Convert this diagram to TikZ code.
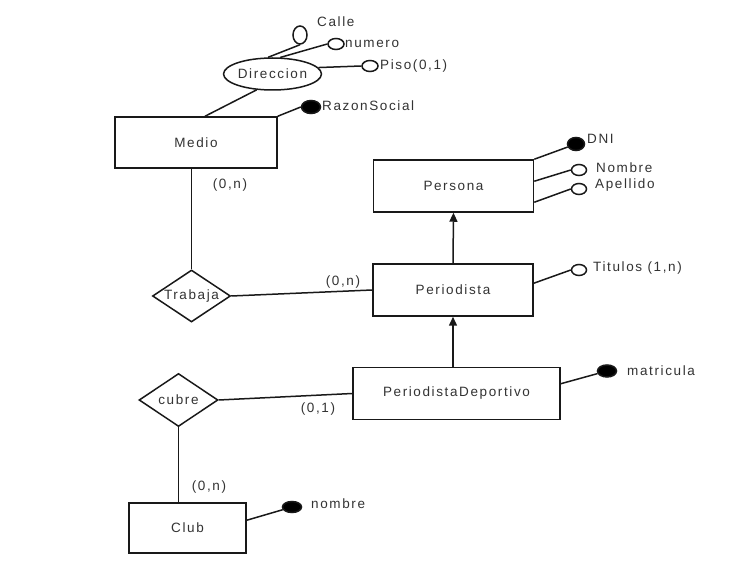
\documentclass[tikz,border=0pt]{standalone}
\usepackage{fontspec}
\setmainfont[LetterSpace=12]{Liberation Sans}
\usetikzlibrary{shapes.geometric,arrows.meta}
\begin{document}
\begin{tikzpicture}[x=1pt,y=-1pt,
  every node/.style={font=\fontsize{13.5}{15}\selectfont, text=black!80},
  entity/.style={draw=black!90, line width=1.5pt, rectangle, inner sep=0pt},
  rel/.style={draw=black!90, line width=1.5pt, diamond, inner sep=0pt},
  attr/.style={draw=black!90, line width=1.5pt, ellipse, inner sep=0pt, fill=white},
  keyattr/.style={draw=black!90, line width=1.5pt, ellipse, inner sep=0pt, fill=black},
  lbl/.style={anchor=west, inner sep=0pt},
  card/.style={inner sep=0pt},
  conn/.style={draw=black!90, line width=1.5pt},
  isa/.style={draw=black!90, line width=1.5pt, -{Triangle[length=9pt,width=8pt]}}
]
\useasboundingbox[fill=white] (0,0) rectangle (732,577);

% entities
\node[entity, minimum width=162pt, minimum height=51pt] (medio) at (196,142.5) {Medio};
\node[entity, minimum width=160pt, minimum height=52pt] (persona) at (453.5,186) {Persona};
\node[entity, minimum width=160pt, minimum height=52pt] (periodista) at (453,290) {Periodista};
\node[entity, minimum width=207pt, minimum height=52pt] (pd) at (456.5,393.5) {PeriodistaDeportivo};
\node[entity, minimum width=117pt, minimum height=50pt] (club) at (187.5,528) {Club};

% relationships
\node[rel, minimum width=78pt, minimum height=52pt, label={center:Trabaja}] (trabaja) at (191.5,296) {};
\node[rel, minimum width=79pt, minimum height=53pt, label={center:cubre}] (cubre) at (178.5,400) {};

% composite attribute
\node[attr, minimum width=91pt, minimum height=32pt] (direccion) at (272.5,74) {Direccion};
\node[attr, minimum width=14pt, minimum height=18pt] (calle) at (300,35) {};
\node[lbl] (callel) at (317,22) {Calle};
\node[attr, minimum width=16pt, minimum height=11pt] (numero) at (336,44) {};
\node[lbl] (numerol) at (345,44) {numero};
\node[attr, minimum width=16pt, minimum height=11pt] (piso) at (370,66) {};
\node[lbl] (pisol) at (380,66) {Piso(0,1)};

% attributes
\node[keyattr, minimum width=19pt, minimum height=13pt] (razon) at (311,107) {};
\node[lbl] (razonl) at (322,106) {RazonSocial};
\node[keyattr, minimum width=17pt, minimum height=13pt] (dni) at (576,144) {};
\node[lbl] (dnil) at (587,139) {DNI};
\node[attr, minimum width=15pt, minimum height=11pt] (nombre) at (579,170) {};
\node[lbl] (nombrel) at (596,168) {Nombre};
\node[attr, minimum width=15pt, minimum height=11pt] (apellido) at (579,189) {};
\node[lbl] (apellidol) at (595,185) {Apellido};
\node[attr, minimum width=15pt, minimum height=11pt] (titulos) at (579,270) {};
\node[lbl] (titulosl) at (593,268) {Titulos (1,n)};
\node[keyattr, minimum width=19pt, minimum height=12pt] (matricula) at (607,371) {};
\node[lbl] (matriculal) at (627,371) {matricula};
\node[keyattr, minimum width=19pt, minimum height=11pt] (nombreclub) at (292,507) {};
\node[lbl] (nombreclubl) at (311,504) {nombre};

% cardinalities
\node[card] (c1) at (230,185) {(0,n)};
\node[card] (c2) at (343,282) {(0,n)};
\node[card] (c3) at (318,409) {(0,1)};
\node[card] (c4) at (209,487) {(0,n)};

% connectors
\draw[conn] (direccion.225) -- ([xshift=9pt]medio.north);
\draw[conn] (direccion.105) -- (calle.south);
\draw[conn] (direccion.65) -- (numero.west);
\draw[conn] (direccion.8) -- (piso.west);
\draw[conn] (medio.north east) -- (razon.west);
\draw[conn] (persona.north east) -- (dni);
\draw[conn] ([yshift=-22pt]persona.north east) -- (nombre.west);
\draw[conn] ([yshift=-43pt]persona.north east) -- (apellido.west);
\draw[conn] ([yshift=-20pt]periodista.north east) -- (titulos.west);
\draw[conn] ([yshift=-17pt]pd.north east) -- (matricula);
\draw[conn] ([yshift=-18pt]club.north east) -- (nombreclub);
\draw[isa] (periodista.north) -- (persona.south);
\draw[isa] (periodista.south |- pd.north) -- (periodista.south);
\draw[conn] (trabaja.north |- medio.south) -- (trabaja.north);
\draw[conn] (trabaja.east) -- (periodista.west);
\draw[conn] (cubre.east) -- (pd.west);
\draw[conn] (cubre.south) -- (cubre.south |- club.north);
\end{tikzpicture}
\end{document}
